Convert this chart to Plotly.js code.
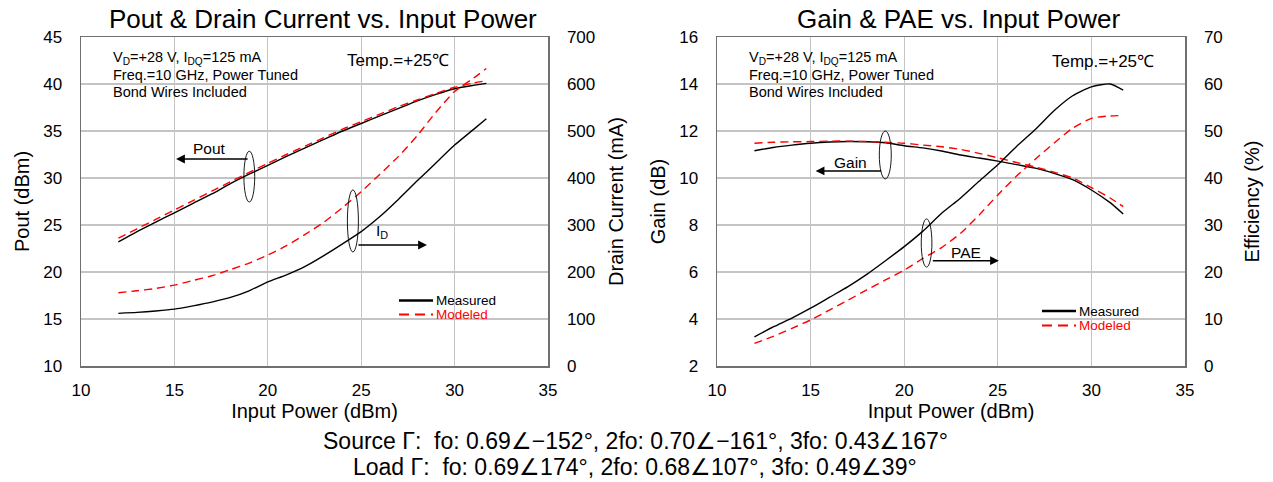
<!DOCTYPE html>
<html>
<head>
<meta charset="utf-8">
<script src="https://cdn.plot.ly/plotly-3.0.1.min.js"></script>
<style>html,body{margin:0;padding:0;background:#fff;}#chart{width:1273px;height:482px;}</style>
</head>
<body>
<div id="chart"></div>
<script>
// ---- Data ----
const inputPower = [12,13,14,15,16,17,18,19,20,21,22,23,24,25,26,27,28,29,30,31,31.7];
const poutMeasured = [23.2,24.3,25.3,26.3,27.3,28.3,29.4,30.4,31.35,32.3,33.2,34.1,35.0,35.8,36.6,37.4,38.2,38.9,39.5,39.85,40.07];
const poutModeled  = [23.6,24.6,25.6,26.6,27.6,28.6,29.6,30.6,31.55,32.5,33.4,34.3,35.2,36.0,36.8,37.6,38.3,39.0,39.65,40.1,40.35];
const idMeasured = [112,114,117,121,128,136,146,160,179,194,212,235,260,286,318,355,394,432,470,503,526];
const idModeled  = [156,160,165,172,182,192,205,219,236,256,280,306,337,371,408,446,490,540,584,612,633];
const gainMeasured = [11.16,11.3,11.4,11.48,11.53,11.55,11.54,11.5,11.37,11.28,11.15,10.98,10.85,10.72,10.57,10.42,10.2,9.93,9.49,8.95,8.47];
const gainModeled  = [11.48,11.52,11.54,11.55,11.57,11.57,11.55,11.52,11.48,11.4,11.33,11.22,11.05,10.86,10.66,10.47,10.25,10.0,9.59,9.15,8.78];
const paeMeasured = [6.2,8.3,10.2,12.3,14.6,16.9,19.5,22.4,25.4,28.7,32.5,35.7,39.3,42.8,46.7,50.3,54.3,57.5,59.4,60.0,58.7];
const paeModeled  = [4.8,6.3,8.0,9.8,11.9,14.0,16.2,18.3,20.4,22.9,25.2,28.2,32.1,36.4,40.4,44.0,47.4,50.6,52.7,53.2,53.3];

const xTicks = [10,15,20,25,30,35];
const leftTitle = 'Pout & Drain Current vs. Input Power';
const rightTitle = 'Gain & PAE vs. Input Power';
const condLines = ['V<sub>D</sub>=+28 V, I<sub>DQ</sub>=125 mA', 'Freq.=10 GHz, Power Tuned', 'Bond Wires Included'];
const tempText = 'Temp.=+25℃';
const sourceText = 'Source Γ:  fo: 0.69∠−152°, 2fo: 0.70∠−161°, 3fo: 0.43∠167°';
const loadText = 'Load Γ:  fo: 0.69∠174°, 2fo: 0.68∠107°, 3fo: 0.49∠39°';

const FONT = 'Liberation Sans, Arial, sans-serif';
const W = 1273, H = 482;
const px = x => x / W;
const py = y => 1 - y / H;

const solid = {color:'#000', width:1.4, shape:'spline', smoothing:0.6};
const dashed = {color:'#ff0000', width:1.4, dash:'8px,5px', shape:'spline', smoothing:0.6};

const traces = [
  {x: inputPower, y: poutMeasured, xaxis:'x', yaxis:'y', mode:'lines', line: solid},
  {x: inputPower, y: poutModeled, xaxis:'x', yaxis:'y', mode:'lines', line: dashed},
  {x: inputPower, y: idMeasured, xaxis:'x', yaxis:'y2', mode:'lines', line: solid},
  {x: inputPower, y: idModeled, xaxis:'x', yaxis:'y2', mode:'lines', line: dashed},
  {x: inputPower, y: gainMeasured, xaxis:'x2', yaxis:'y3', mode:'lines', line: solid},
  {x: inputPower, y: gainModeled, xaxis:'x2', yaxis:'y3', mode:'lines', line: dashed},
  {x: inputPower, y: paeMeasured, xaxis:'x2', yaxis:'y4', mode:'lines', line: solid},
  {x: inputPower, y: paeModeled, xaxis:'x2', yaxis:'y4', mode:'lines', line: dashed}
];

const tickFont = {family: FONT, size: 17, color: '#000'};
const titleFont = {family: FONT, size: 20, color: '#000'};
const gridC = '#c4c4c4';
const lineC = '#707070';

function xAx(domain, anchor) {
  return {domain, anchor, range:[10,35], tickvals: xTicks, showgrid:true, gridcolor:gridC, gridwidth:1.3,
    showline:true, linecolor:lineC, linewidth:1.5, mirror:true, ticks:'', tickfont:tickFont,
    ticklabelstandoff:8, zeroline:false, fixedrange:true,
    title:{text:'Input Power (dBm)', font:titleFont, standoff:0}};
}
function yAx(range, dtick, title, anchor, standoff, extra) {
  return Object.assign({range, dtick, anchor, showgrid:true, gridcolor:gridC, gridwidth:1.3,
    showline:true, linecolor:lineC, linewidth:1.5, mirror:true, ticks:'', tickfont:tickFont,
    ticklabelstandoff:14, zeroline:false, fixedrange:true,
    title:{text:title, font:titleFont, standoff:standoff}}, extra || {});
}

const dom = [py(366), py(37)];
const layout = {
  width: W, height: H,
  margin: {l:0, r:0, t:0, b:0},
  paper_bgcolor:'#fff', plot_bgcolor:'#fff',
  showlegend:false,
  font:{family: FONT, color:'#000'},
  xaxis: xAx([px(81), px(548)], 'y'),
  yaxis: yAx([10,45], 5, 'Pout (dBm)', 'x', 8, {domain: dom}),
  yaxis2: yAx([0,700], 100, 'Drain Current (mA)', 'x', 14, {overlaying:'y', side:'right', showgrid:false, domain: dom}),
  xaxis2: xAx([px(717), px(1185)], 'y3'),
  yaxis3: yAx([2,16], 2, 'Gain (dB)', 'x2', 8, {domain: dom}),
  yaxis4: yAx([0,70], 10, 'Efficiency (%)', 'x2', 23, {overlaying:'y3', side:'right', showgrid:false, domain: dom}),
  shapes: [],
  annotations: []
};

// white boxes behind text (cover gridlines)
function whiteBox(x0,y0,x1,y1){
  layout.shapes.push({type:'rect', xref:'paper', yref:'paper', x0:px(x0), x1:px(x1), y0:py(y1), y1:py(y0),
    fillcolor:'#fff', line:{width:0}, layer:'between'});
}
whiteBox(105,38,333,110); whiteBox(340,38,460,72); whiteBox(395,288,498,321);
whiteBox(740,38,972,110); whiteBox(1045,38,1165,72); whiteBox(1037,300,1140,333);

function txt(t, x, y, size, anchor, color){
  layout.annotations.push({text:t, xref:'paper', yref:'paper', x:px(x), y:py(y), showarrow:false,
    xanchor:anchor || 'left', yanchor:'middle', font:{family:FONT, size, color: color || '#000'}});
}
// titles
txt(leftTitle, 323, 19, 26, 'center');
txt(rightTitle, 959, 19, 26, 'center');
// condition text
condLines.forEach((l, i) => { txt(l, 111, 58 + i*16.8, 14.5); txt(l, 747, 58 + i*16.8, 14.5); });
txt(tempText, 345, 60, 17);
txt(tempText, 1050, 61, 17);
// bottom text
txt(sourceText, 635, 441, 23, 'center');
txt(loadText, 635, 467, 23, 'center');

// legends (manual)
function legend(x0, yM, yD){
  layout.shapes.push({type:'line', xref:'paper', yref:'paper', x0:px(x0), x1:px(x0+34), y0:py(yM), y1:py(yM), line:{color:'#000', width:2.5}});
  layout.shapes.push({type:'line', xref:'paper', yref:'paper', x0:px(x0), x1:px(x0+34), y0:py(yD), y1:py(yD), line:{color:'#ff0000', width:2, dash:'10px,6px'}});
  txt('Measured', x0+35, yM, 13.5);
  txt('Modeled', x0+35, yD, 13.5, 'left', '#ff0000');
}
legend(399, 300.5, 314.5);
legend(1042, 311, 325.5);

// ellipses and arrows (data coordinates)
function ellipse(xr, yr, x0,x1,y0,y1){
  layout.shapes.push({type:'circle', xref:xr, yref:yr, x0, x1, y0, y1, line:{color:'#000', width:0.9}, fillcolor:'rgba(0,0,0,0)'});
}
ellipse('x','y', 18.72,19.30,27.45,32.85);
ellipse('x','y', 24.26,24.85,22.13,28.73);
ellipse('x2','y3', 18.67,19.31,9.96,12.0);
ellipse('x2','y3', 20.91,21.48,6.21,8.26);

function arrow(xr, yr, fromX, toX, yv){
  layout.annotations.push({xref:xr, yref:yr, axref:xr, ayref:yr, x:toX, y:yv, ax:fromX, ay:yv, text:'', showarrow:true,
    arrowhead:2, arrowsize:1.1, arrowwidth:1.6, arrowcolor:'#000', standoff:0, startstandoff:0});
}
arrow('x','y', 19.0, 15.09, 32.02);
arrow('x','y', 24.77, 28.52, 22.87);
arrow('x2','y3', 18.85, 15.27, 10.30);
arrow('x2','y3', 21.45, 25.06, 6.48);

function label(xr, yr, x, y, t){
  layout.annotations.push({xref:xr, yref:yr, x, y, text:t, showarrow:false, xanchor:'center', yanchor:'middle', font:{family:FONT, size:15.5, color:'#000'}});
}
label('x','y', 16.9, 33.1, 'Pout');
label('x','y', 26.1, 24.3, 'I<sub>D</sub>');
label('x2','y3', 17.12, 10.65, 'Gain');
label('x2','y3', 23.32, 6.82, 'PAE');

Plotly.newPlot('chart', traces, layout, {staticPlot:true, displayModeBar:false});
</script>
</body>
</html>
